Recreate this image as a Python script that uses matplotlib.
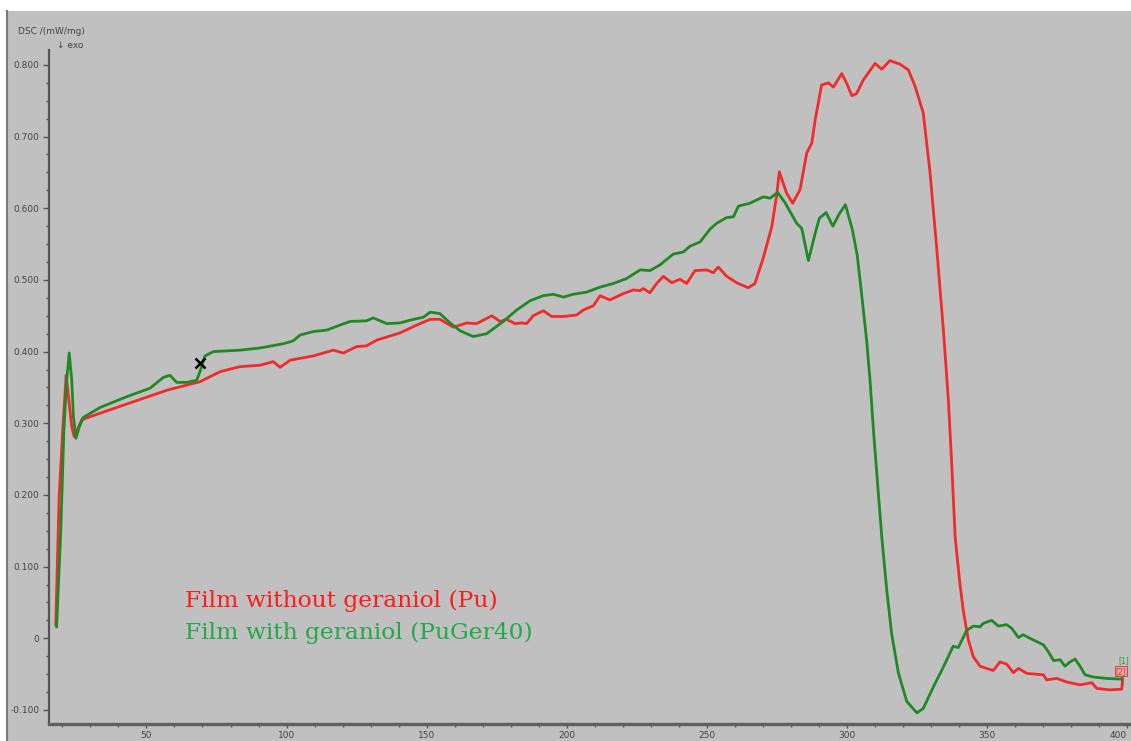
import matplotlib
matplotlib.use("Agg")
import matplotlib.pyplot as plt
from matplotlib.patches import Rectangle
from matplotlib.lines import Line2D
from matplotlib.ticker import MultipleLocator, FuncFormatter

# DSC curves: temperature (deg C) and heat flow (mW/mg)
temp_pu = [17.6, 18.8, 20.1, 21.3, 23.3, 24.2, 26.9, 33.4, 45.3, 57.2, 69.1, 76.3,
           83.4, 90.5, 95.3, 97.7, 101.3, 109.6, 116.7, 120.3, 125.1, 128.6, 132.2,
           140.5, 146.5, 151.3, 154.8, 159.6, 164.4, 167.9, 173.3, 176.3, 178.6,
           181.6, 184.0, 185.8, 188.1, 191.7, 194.7, 198.9, 203.6, 206.0, 209.6,
           212.0, 215.5, 220.3, 223.9, 226.3, 227.4, 229.8, 232.2, 234.6, 237.6,
           240.5, 242.9, 245.9, 250.1, 252.4, 254.2, 257.2, 260.8, 264.9, 267.3,
           270.3, 273.3, 275.1, 276.0, 278.6, 280.8, 283.4, 285.8, 287.6, 288.8,
           291.1, 293.5, 295.3, 298.3, 300.1, 301.9, 303.6, 306.0, 310.2, 312.6,
           315.5, 319.1, 322.1, 324.5, 327.4, 329.8, 332.2, 334.6, 336.4, 337.6,
           338.8, 340.5, 341.7, 343.5, 345.3, 347.7, 352.4, 354.8, 357.2, 359.6,
           361.4, 364.4, 370.3, 371.5, 375.1, 378.6, 383.4, 387.6, 389.4, 394.1,
           398.3, 398.6]
dsc_pu = [0.019, 0.198, 0.291, 0.367, 0.295, 0.281, 0.305, 0.314, 0.330, 0.346, 0.358,
          0.372, 0.379, 0.381, 0.386, 0.378, 0.388, 0.394, 0.402, 0.398, 0.407, 0.408,
          0.416, 0.426, 0.437, 0.445, 0.445, 0.434, 0.440, 0.439, 0.450, 0.442, 0.445,
          0.439, 0.440, 0.439, 0.450, 0.457, 0.449, 0.449, 0.451, 0.458, 0.464, 0.478,
          0.472, 0.481, 0.486, 0.485, 0.488, 0.482, 0.495, 0.505, 0.496, 0.501, 0.495,
          0.513, 0.514, 0.510, 0.518, 0.505, 0.496, 0.489, 0.495, 0.531, 0.574, 0.619,
          0.651, 0.621, 0.607, 0.626, 0.677, 0.691, 0.723, 0.772, 0.775, 0.769, 0.788,
          0.774, 0.757, 0.760, 0.779, 0.802, 0.794, 0.806, 0.801, 0.793, 0.770, 0.733,
          0.651, 0.545, 0.430, 0.331, 0.241, 0.141, 0.076, 0.039, -0.002, -0.026,
          -0.039, -0.045, -0.033, -0.036, -0.048, -0.042, -0.049, -0.051, -0.058,
          -0.056, -0.061, -0.065, -0.062, -0.070, -0.072, -0.071, -0.058]

temp_ger = [17.9, 19.4, 20.5, 21.5, 22.4, 23.3, 23.9, 24.8, 26.0, 27.4, 33.4, 42.9,
            51.3, 56.0, 58.4, 60.8, 64.4, 67.9, 69.1, 70.9, 73.9, 83.4, 90.5, 98.9,
            102.4, 104.8, 109.6, 114.4, 119.1, 122.7, 128.6, 131.0, 135.8, 140.5,
            145.3, 148.9, 151.3, 154.8, 158.4, 162.0, 166.7, 171.5, 177.4, 182.2,
            187.0, 191.7, 195.3, 198.9, 202.4, 207.2, 212.0, 216.7, 221.5, 226.3,
            229.8, 233.4, 238.1, 241.7, 244.1, 247.7, 251.3, 253.6, 257.2, 259.6,
            261.4, 265.5, 270.3, 272.7, 275.4, 278.0, 282.2, 284.0, 286.4, 288.8,
            290.3, 292.7, 295.1, 297.4, 299.6, 302.1, 303.8, 305.4, 307.2, 308.4,
            309.6, 310.8, 312.6, 314.4, 316.1, 318.5, 321.5, 325.1, 327.4, 331.0,
            334.6, 338.1, 339.9, 342.9, 345.3, 347.7, 348.9, 351.9, 354.2, 357.2,
            359.0, 361.4, 363.1, 365.5, 370.3, 372.1, 373.9, 376.3, 378.0, 379.8,
            381.6, 383.4, 385.2, 388.1, 392.9, 398.3, 398.9]
dsc_ger = [0.016, 0.151, 0.291, 0.360, 0.398, 0.360, 0.309, 0.279, 0.295, 0.308, 0.322,
           0.337, 0.349, 0.364, 0.367, 0.357, 0.357, 0.360, 0.372, 0.394, 0.400, 0.402,
           0.405, 0.411, 0.415, 0.423, 0.428, 0.430, 0.437, 0.442, 0.443, 0.447, 0.439,
           0.440, 0.445, 0.448, 0.455, 0.453, 0.440, 0.429, 0.421, 0.425, 0.442, 0.458,
           0.471, 0.478, 0.480, 0.476, 0.480, 0.483, 0.490, 0.495, 0.502, 0.514, 0.513,
           0.521, 0.536, 0.539, 0.547, 0.553, 0.571, 0.579, 0.587, 0.588, 0.603, 0.607,
           0.616, 0.614, 0.622, 0.608, 0.579, 0.572, 0.527, 0.565, 0.586, 0.594, 0.575,
           0.592, 0.605, 0.570, 0.535, 0.480, 0.415, 0.360, 0.291, 0.231, 0.141, 0.066,
           0.007, -0.048, -0.088, -0.104, -0.098, -0.068, -0.040, -0.011, -0.013, 0.011,
           0.017, 0.016, 0.021, 0.025, 0.017, 0.019, 0.014, 0.001, 0.005, 0.000, -0.009,
           -0.019, -0.031, -0.030, -0.039, -0.033, -0.029, -0.039, -0.051, -0.054,
           -0.056, -0.057, -0.047]

# glass-transition mark
tg_temp, tg_dsc = 69.1, 0.384

series_labels = ["Film without geraniol (Pu)", "Film with geraniol (PuGer40)"]
line_colors = ["#f22a2a", "#1f8a24"]
text_colors = ["#ff1a1a", "#22aa48"]

W, H = 1131, 741
fig = plt.figure(figsize=(W / 100, H / 100), dpi=100)
fig.patch.set_facecolor("#c0c0c0")
# white frame strips and the darker border of the plot window
fig.patches.append(Rectangle((0, (H - 11) / H), 1, 11 / H, transform=fig.transFigure,
                             facecolor="white", edgecolor="none", zorder=0))
fig.patches.append(Rectangle((0, 0), 6 / W, 1, transform=fig.transFigure,
                             facecolor="white", edgecolor="none", zorder=0))
fig.lines.append(Line2D([7 / W, 7 / W], [0, (H - 11) / H], transform=fig.transFigure,
                        color="#7a7a7a", lw=1.5))

ax = fig.add_axes([49 / W, 17 / H, (W - 49) / W, (724 - 50) / H])
ax.set_facecolor("#c0c0c0")
ax.set_xlim(15.18, 401.6)
ax.set_ylim(-0.1196, 0.8208)

ax.plot(temp_pu, dsc_pu, color=line_colors[0], lw=2.0, zorder=3,
        solid_joinstyle="round")
ax.plot(temp_ger, dsc_ger, color=line_colors[1], lw=2.0, zorder=3,
        solid_joinstyle="round")
ax.plot(tg_temp, tg_dsc, marker="x", color="black", ms=7, mew=1.8, zorder=4)

# curve end markers
ax.text(temp_ger[-1], dsc_ger[-1] + 0.016, "[1]", color="#2c9c3c", fontsize=5.5,
        ha="center", va="center", clip_on=False)
ax.text(temp_pu[-1] - 0.6, dsc_pu[-1] + 0.012, "[2]", color="#e03030", fontsize=5.5,
        ha="center", va="center", clip_on=False,
        bbox=dict(boxstyle="square,pad=0.05", fc="#e8a8a8", ec="#e03030", lw=0.6))

for spine in ["top", "right"]:
    ax.spines[spine].set_visible(False)
ax.spines["left"].set_color("#555555")
ax.spines["left"].set_linewidth(1.6)
ax.spines["bottom"].set_color("#606060")
ax.spines["bottom"].set_linewidth(2.4)

ax.xaxis.set_major_locator(MultipleLocator(50))
ax.xaxis.set_minor_locator(MultipleLocator(10))
ax.yaxis.set_major_locator(MultipleLocator(0.1))
ax.yaxis.set_minor_locator(MultipleLocator(0.025))
ax.yaxis.set_major_formatter(FuncFormatter(lambda v, p: "0" if abs(v) < 1e-9 else f"{v:.3f}"))
ax.tick_params(which="both", colors="#555555", labelcolor="#444444", labelsize=6.5)
ax.tick_params(axis="y", which="major", length=4, width=1.0, pad=3)
ax.tick_params(axis="y", which="minor", length=2, width=1.0)
ax.tick_params(axis="x", which="major", length=3, width=1.0, pad=2)
ax.tick_params(axis="x", which="minor", length=2, width=1.0)

fig.canvas.draw()
# keep the last temperature label inside the frame
for lab in ax.get_xticklabels():
    if lab.get_text() == "400":
        lab.set_horizontalalignment("right")
        lab.set_x(401.0)

fig.text(18 / W, 1 - 31 / H, "DSC /(mW/mg)", fontsize=6.5, color="#444444",
         ha="left", va="center")
fig.text(57 / W, 1 - 45 / H, "\u2193 exo", fontsize=6.5, color="#444444",
         ha="left", va="center")

for i, (label, col) in enumerate(zip(series_labels, text_colors)):
    fig.text(185 / W, 1 - (601 + 32 * i) / H, label, color=col, fontsize=16.8,
             family="DejaVu Serif", ha="left", va="center")

fig.savefig("out.png", dpi=100, facecolor=fig.get_facecolor())
